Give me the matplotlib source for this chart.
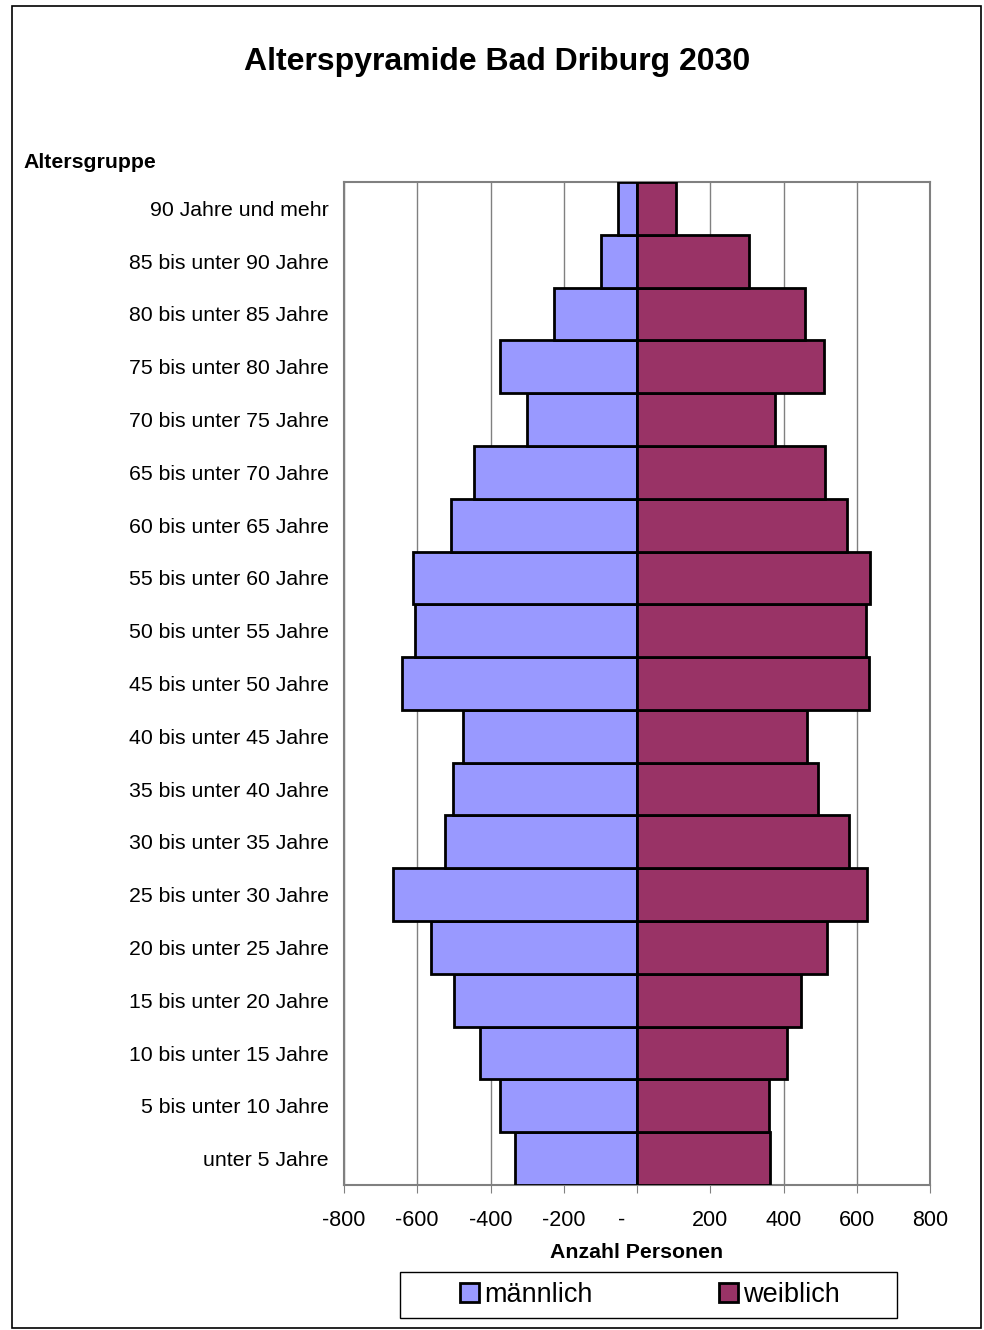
import numpy as np
import matplotlib.pyplot as plt
from matplotlib.patches import Rectangle, Patch

plt.rcParams['font.family'] = ['Liberation Sans', 'DejaVu Sans']

gruppen = ['unter 5 Jahre', '5 bis unter 10 Jahre', '10 bis unter 15 Jahre',
           '15 bis unter 20 Jahre', '20 bis unter 25 Jahre', '25 bis unter 30 Jahre',
           '30 bis unter 35 Jahre', '35 bis unter 40 Jahre', '40 bis unter 45 Jahre',
           '45 bis unter 50 Jahre', '50 bis unter 55 Jahre', '55 bis unter 60 Jahre',
           '60 bis unter 65 Jahre', '65 bis unter 70 Jahre', '70 bis unter 75 Jahre',
           '75 bis unter 80 Jahre', '80 bis unter 85 Jahre', '85 bis unter 90 Jahre',
           '90 Jahre und mehr']
maennlich = [-333, -374, -429, -500, -563, -667, -525, -503, -475, -642,
             -607, -612, -508, -445, -300, -374, -227, -98, -52]
weiblich = [363, 361, 410, 448, 519, 628, 579, 495, 464, 634,
            626, 637, 574, 514, 377, 511, 459, 306, 107]
xticks = [-800, -600, -400, -200, 0, 200, 400, 600, 800]
xticklabels = ['-800', '-600', '-400', '-200', '-     ', '200', '400', '600', '800']

fig = plt.figure(figsize=(9.84, 13.3), dpi=100)
fig.patches.append(Rectangle((12 / 984, 1 - 1328 / 1330), 969 / 984, 1322 / 1330,
                             transform=fig.transFigure, fill=False,
                             edgecolor='black', linewidth=1.2))
# legend frame
fig.patches.append(Rectangle((400 / 984, 1 - 1318 / 1330), 497 / 984, 46 / 1330,
                             transform=fig.transFigure, fill=False,
                             edgecolor='black', linewidth=1))

ax = fig.add_axes([344 / 984, 1 - 1185 / 1330, 586 / 984, 1003 / 1330])
y = np.arange(len(gruppen))
ax.barh(y, maennlich, height=1.0, color='#9999FF', edgecolor='black', linewidth=2, zorder=3)
ax.barh(y, weiblich, height=1.0, color='#993366', edgecolor='black', linewidth=2, zorder=3)

ax.set_xlim(-800, 800)
ax.set_ylim(-0.5, len(gruppen) - 0.5)
ax.set_xticks(xticks)
ax.set_xticklabels(xticklabels, fontsize=15.5)
ax.set_yticks(y)
ax.set_yticklabels(gruppen, fontsize=15.3)
ax.tick_params(axis='y', length=0, pad=11)
ax.tick_params(axis='x', direction='out', length=6, color='gray', pad=12)
ax.xaxis.grid(True, color='gray', linewidth=1, zorder=0)
for s in ax.spines.values():
    s.set_color('gray')
    s.set_linewidth(1.5)

fig.text(0.505, 1 - 62 / 1330, 'Alterspyramide Bad Driburg 2030', ha='center', va='center',
         fontsize=23, fontweight='bold')
fig.text(23 / 984, 1 - 162 / 1330, 'Altersgruppe', ha='left', va='center',
         fontsize=15.3, fontweight='bold')
fig.text(637 / 984, 1 - 1252 / 1330, 'Anzahl Personen', ha='center', va='center',
         fontsize=15.3, fontweight='bold')

handles = [Patch(facecolor='#9999FF', edgecolor='black', linewidth=2),
           Patch(facecolor='#993366', edgecolor='black', linewidth=2)]
leg = fig.legend(handles, ['männlich', 'weiblich'], loc='center',
                 bbox_to_anchor=(650 / 984, 1 - 1295 / 1330), ncol=2, fontsize=19.5,
                 frameon=False, handlelength=0.7, handleheight=0.7, handletextpad=0.2,
                 columnspacing=4.65, borderpad=0, borderaxespad=0)

fig.savefig('out.png', dpi=100)
